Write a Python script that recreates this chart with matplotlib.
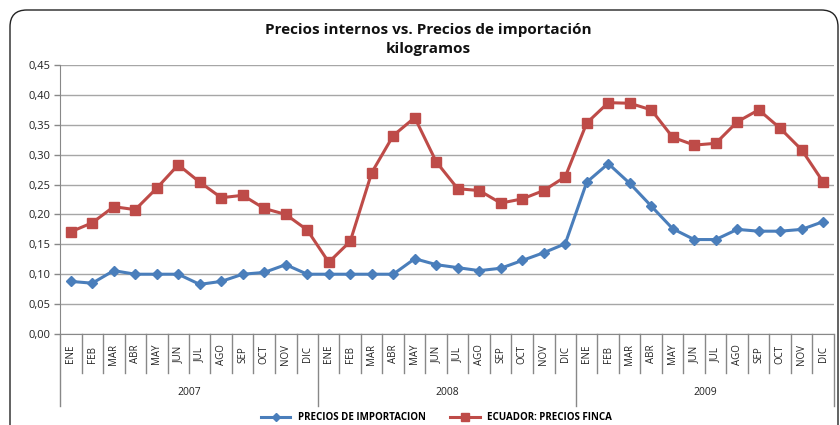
# precios internos vs importacion

import matplotlib
matplotlib.use("Agg")
import matplotlib.pyplot as plt
from matplotlib.patches import FancyBboxPatch

plt.rcParams['font.family'] = ['Open Sans', 'DejaVu Sans']

meses = ['ENE', 'FEB', 'MAR', 'ABR', 'MAY', 'JUN', 'JUL', 'AGO', 'SEP', 'OCT', 'NOV', 'DIC']
anios = ['2007', '2008', '2009']

precios_importacion = [0.088, 0.085, 0.106, 0.100, 0.100, 0.100, 0.083, 0.088, 0.100, 0.103, 0.116, 0.100,
                       0.100, 0.100, 0.100, 0.100, 0.126, 0.116, 0.111, 0.106, 0.110, 0.123, 0.136, 0.151,
                       0.254, 0.285, 0.252, 0.214, 0.176, 0.158, 0.158, 0.175, 0.172, 0.172, 0.175, 0.188]
precios_finca = [0.171, 0.186, 0.213, 0.208, 0.244, 0.283, 0.254, 0.228, 0.232, 0.210, 0.200, 0.174,
                 0.120, 0.155, 0.270, 0.332, 0.362, 0.288, 0.243, 0.240, 0.219, 0.226, 0.240, 0.263,
                 0.353, 0.387, 0.386, 0.375, 0.329, 0.316, 0.319, 0.355, 0.375, 0.344, 0.308, 0.254]

W, H = 840, 425
fig = plt.figure(figsize=(W / 100, H / 100), dpi=100)

# marco redondeado (se sale por abajo como en el original)
frame = FancyBboxPatch((10 / W, -20 / H), 828 / W, 435 / H, boxstyle="round,pad=0,rounding_size=0.02",
                       transform=fig.transFigure, facecolor='none', edgecolor='#222222', linewidth=1.0,
                       mutation_aspect=W / H, zorder=-1)
fig.patches.append(frame)

ax = fig.add_axes([60 / W, 1 - 334 / H, 774 / W, 269 / H])
ax.set_facecolor('none')

n = len(precios_finca)
x = list(range(n))

ax.plot(x, precios_importacion, color='#4a7ebb', lw=2.2, marker='D', ms=5.5, label='PRECIOS DE IMPORTACION')
ax.plot(x, precios_finca, color='#be4b48', lw=2.2, marker='s', ms=7, label='ECUADOR: PRECIOS FINCA')

ax.set_xlim(-0.5, n - 0.5)
ax.set_ylim(0, 0.45)
ticks = [i * 0.05 for i in range(10)]
ax.set_yticks(ticks)
ax.set_yticklabels([('%.2f' % t).replace('.', ',') for t in ticks], fontsize=8, color='#222222')
ax.yaxis.grid(True, color='#a6a6a6', lw=1.0)
ax.set_axisbelow(True)
ax.tick_params(axis='y', length=4, width=1, color='#888888', pad=3)
ax.set_xticks([])
for s in ['top', 'right']:
    ax.spines[s].set_visible(False)
ax.spines['left'].set_color('#888888')
ax.spines['bottom'].set_color('#888888')

tr = ax.get_xaxis_transform()
# separadores de meses y anios
for i in range(n + 1):
    bottom = -0.268 if i % 12 == 0 else -0.145
    ax.plot([i - 0.5, i - 0.5], [0, bottom], transform=tr, color='#888888', lw=1, clip_on=False)
for i in range(n):
    ax.text(i, -0.075, meses[i % 12], transform=tr, rotation=90, ha='center', va='center',
            fontsize=7, color='#222222')
for k, a in enumerate(anios):
    ax.text(k * 12 + 5.5, -0.219, a, transform=tr, ha='center', va='center', fontsize=7.5, color='#222222')

fig.text(0.51, 1 - 30 / H, 'Precios internos vs. Precios de importación', ha='center', va='center',
         fontsize=11, fontweight='bold', color='#111111')
fig.text(0.51, 1 - 49 / H, 'kilogramos', ha='center', va='center',
         fontsize=11, fontweight='bold', color='#111111')

leg = fig.legend(loc='center', bbox_to_anchor=(0.52, 1 - 418 / H), ncol=2, frameon=False,
                 prop={'size': 7, 'weight': 'bold'}, handlelength=3.0, columnspacing=2.5, markerscale=0.8)

fig.savefig('out.png', dpi=100)
